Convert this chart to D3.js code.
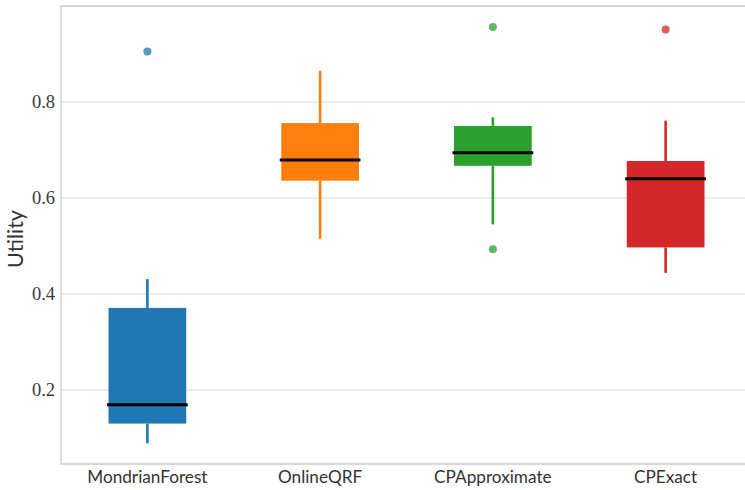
<!DOCTYPE html>
<html>
<head>
<meta charset="utf-8">
<script src="https://cdn.jsdelivr.net/npm/d3@7"></script>
<style>
  html, body { margin: 0; padding: 0; background: #fff; }
  svg { display: block; }
  .ytick text { font-family: "Liberation Serif", serif; font-size: 18.5px; }
</style>
</head>
<body>
<svg id="chart" width="745" height="490"></svg>
<script>
// Box summaries per method
const categories = ["MondrianForest", "OnlineQRF", "CPApproximate", "CPExact"];
const whiskerLow  = [0.089, 0.515, 0.545, 0.444];
const q1          = [0.130, 0.636, 0.667, 0.497];
const median      = [0.169, 0.679, 0.694, 0.640];
const q3          = [0.371, 0.756, 0.750, 0.677];
const whiskerHigh = [0.431, 0.865, 0.768, 0.761];
const outliers    = [[0.905], [], [0.956, 0.493], [0.951]];
const colors      = ["#1f77b4", "#ff7f0e", "#2ca02c", "#d62728"];
const yTicks      = [0.2, 0.4, 0.6, 0.8];

const svg = d3.select("#chart");
const plotLeft = 61, plotTop = 6, plotBottom = 464, plotRight = 752;

const x = d3.scaleBand().domain(categories).range([plotLeft, plotRight]).paddingInner(0).paddingOuter(0);
const y = d3.scaleLinear().domain([0.0458, 1.0]).range([plotBottom, plotTop]);

const boxW = x.bandwidth() * 0.45;

// Gridlines
svg.append("g").selectAll("line").data(yTicks).join("line")
  .attr("x1", plotLeft).attr("x2", 745)
  .attr("y1", d => y(d)).attr("y2", d => y(d))
  .attr("stroke", "#e6e6e6").attr("stroke-width", 1.3);

// Frame
svg.append("path")
  .attr("d", `M745,${plotTop}H${plotLeft}V${plotBottom}H745`)
  .attr("fill", "none").attr("stroke", "#cccccc").attr("stroke-width", 1.3);

// Y axis labels (serif numerals)
const yAxis = d3.axisLeft(y).tickValues(yTicks).tickSize(0).tickPadding(6).tickFormat(d3.format(".1f"));
const gy = svg.append("g").attr("class", "ytick").attr("transform", `translate(${plotLeft},0)`).call(yAxis);
gy.attr("font-family", null).attr("font-size", null);
gy.select(".domain").remove();
gy.selectAll("text").attr("fill", "#3a3a3a");

// X axis labels
const xAxis = d3.axisBottom(x).tickSize(0).tickPadding(6.5);
const gx = svg.append("g").attr("transform", `translate(0,${plotBottom})`).call(xAxis);
gx.attr("font-family", null).attr("font-size", null);
gx.select(".domain").remove();
gx.selectAll("text")
  .style("font-family", "Lato, 'Open Sans', sans-serif")
  .style("font-size", "17.2px").attr("fill", "#333");

// Y axis title
svg.append("text")
  .attr("transform", `translate(22.5,${(plotTop + plotBottom) / 2 + 4}) rotate(-90)`)
  .attr("text-anchor", "middle")
  .style("font-family", "Lato, 'Open Sans', sans-serif")
  .style("font-size", "21.5px").attr("fill", "#333")
  .text("Utility");

// Boxes
const g = svg.append("g");
categories.forEach((c, i) => {
  const cx = x(c) + x.bandwidth() / 2;
  const col = colors[i];
  // whiskers
  g.append("line").attr("x1", cx).attr("x2", cx)
    .attr("y1", y(whiskerHigh[i])).attr("y2", y(q3[i]))
    .attr("stroke", col).attr("stroke-width", 2.6);
  g.append("line").attr("x1", cx).attr("x2", cx)
    .attr("y1", y(q1[i])).attr("y2", y(whiskerLow[i]))
    .attr("stroke", col).attr("stroke-width", 2.6);
  // box
  g.append("rect")
    .attr("x", cx - boxW / 2).attr("width", boxW)
    .attr("y", y(q3[i])).attr("height", y(q1[i]) - y(q3[i]))
    .attr("fill", col);
  // median
  g.append("line")
    .attr("x1", cx - boxW / 2 - 1.5).attr("x2", cx + boxW / 2 + 1.5)
    .attr("y1", y(median[i])).attr("y2", y(median[i]))
    .attr("stroke", "#000").attr("stroke-width", 3);
  // outliers
  g.selectAll(null).data(outliers[i]).join("circle")
    .attr("cx", cx).attr("cy", d => y(d)).attr("r", 4)
    .attr("fill", col).attr("fill-opacity", 0.75);
});
</script>
</body>
</html>
